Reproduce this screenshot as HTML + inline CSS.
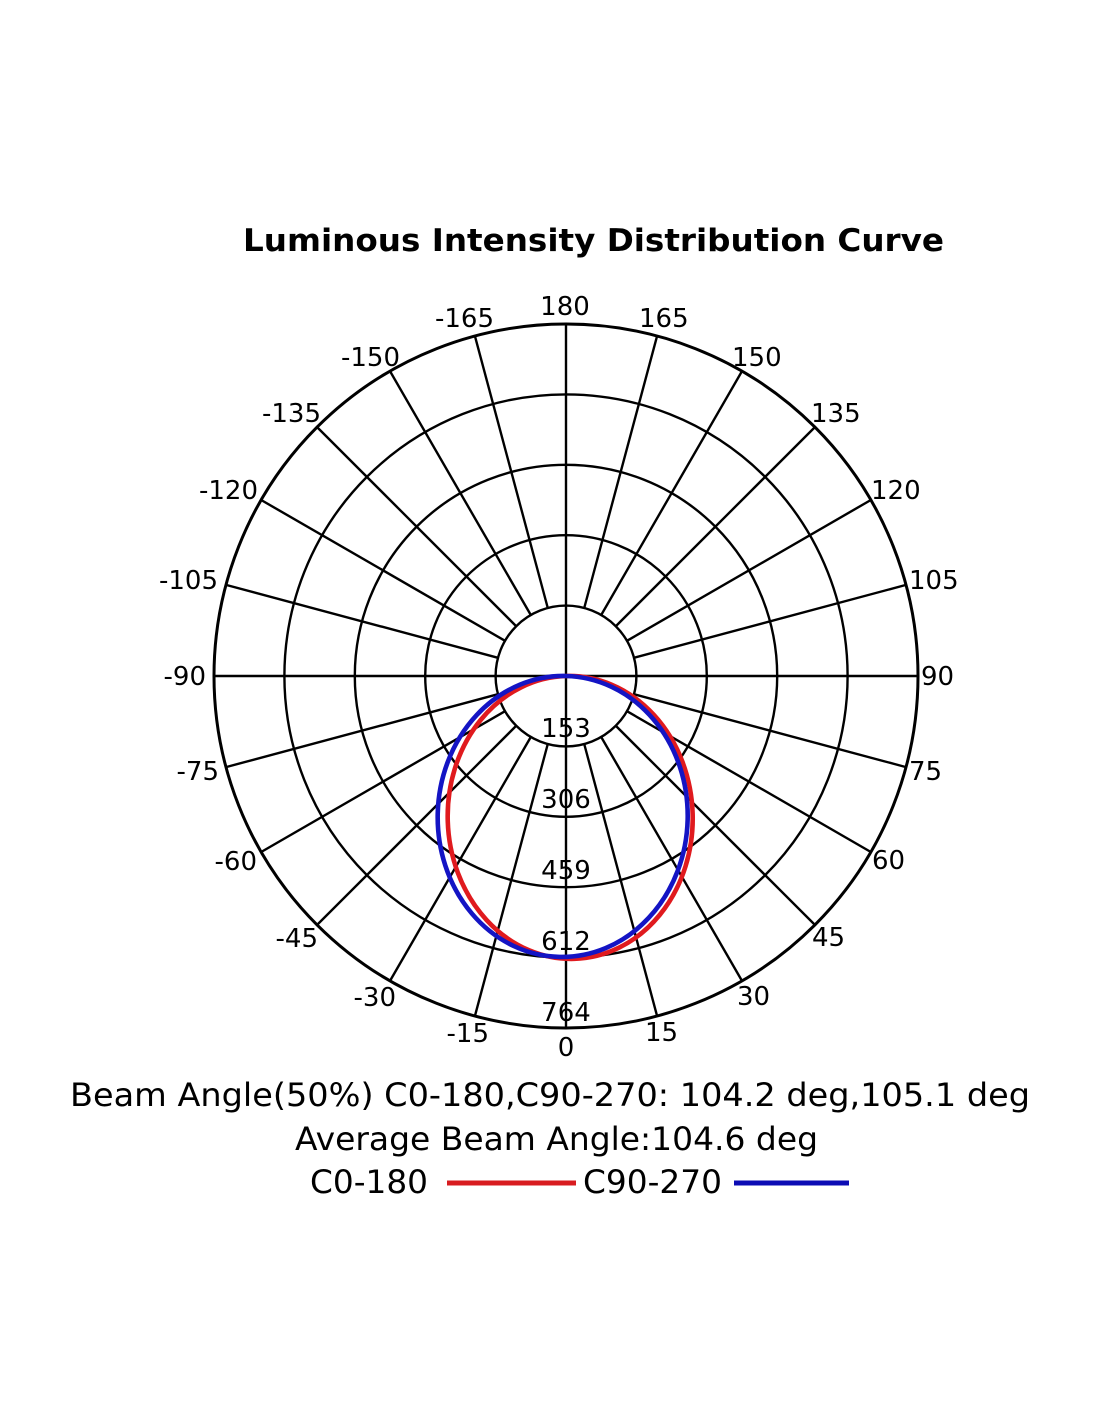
<!DOCTYPE html>
<html>
<head>
<meta charset="utf-8">
<style>
  html, body { margin: 0; padding: 0; background: #ffffff; }
  svg { display: block; }
  text { font-family: "DejaVu Sans", "Liberation Sans", sans-serif; fill: #000; }
</style>
</head>
<body>
<svg width="1100" height="1422" viewBox="0 0 1100 1422" xmlns="http://www.w3.org/2000/svg">
  <rect x="0" y="0" width="1100" height="1422" fill="#ffffff"/>

  <!-- Title -->
  <text x="243" y="251" font-size="31.5" font-weight="bold" textLength="701" lengthAdjust="spacingAndGlyphs">Luminous Intensity Distribution Curve</text>

  <!-- Polar grid -->
  <g transform="translate(566,676)" fill="none" stroke="#000" stroke-width="2.4">
    <circle cx="0" cy="0" r="70.4"/>
    <circle cx="0" cy="0" r="140.8"/>
    <circle cx="0" cy="0" r="211.2"/>
    <circle cx="0" cy="0" r="281.6"/>
    <circle cx="0" cy="0" r="352" stroke-width="3"/>
    <line x1="-352" y1="0" x2="352" y2="0"/>
    <line x1="0" y1="-352" x2="0" y2="352"/>
    <line x1="0" y1="70.4" x2="0" y2="352" transform="rotate(15)"/>
    <line x1="0" y1="70.4" x2="0" y2="352" transform="rotate(30)"/>
    <line x1="0" y1="70.4" x2="0" y2="352" transform="rotate(45)"/>
    <line x1="0" y1="70.4" x2="0" y2="352" transform="rotate(60)"/>
    <line x1="0" y1="70.4" x2="0" y2="352" transform="rotate(75)"/>
    <line x1="0" y1="70.4" x2="0" y2="352" transform="rotate(105)"/>
    <line x1="0" y1="70.4" x2="0" y2="352" transform="rotate(120)"/>
    <line x1="0" y1="70.4" x2="0" y2="352" transform="rotate(135)"/>
    <line x1="0" y1="70.4" x2="0" y2="352" transform="rotate(150)"/>
    <line x1="0" y1="70.4" x2="0" y2="352" transform="rotate(165)"/>
    <line x1="0" y1="70.4" x2="0" y2="352" transform="rotate(195)"/>
    <line x1="0" y1="70.4" x2="0" y2="352" transform="rotate(210)"/>
    <line x1="0" y1="70.4" x2="0" y2="352" transform="rotate(225)"/>
    <line x1="0" y1="70.4" x2="0" y2="352" transform="rotate(240)"/>
    <line x1="0" y1="70.4" x2="0" y2="352" transform="rotate(255)"/>
    <line x1="0" y1="70.4" x2="0" y2="352" transform="rotate(285)"/>
    <line x1="0" y1="70.4" x2="0" y2="352" transform="rotate(300)"/>
    <line x1="0" y1="70.4" x2="0" y2="352" transform="rotate(315)"/>
    <line x1="0" y1="70.4" x2="0" y2="352" transform="rotate(330)"/>
    <line x1="0" y1="70.4" x2="0" y2="352" transform="rotate(345)"/>
  </g>

  <!-- Angle labels -->
  <g font-size="26">
    <text x="565" y="315" text-anchor="middle">180</text>
    <text x="494" y="327" text-anchor="end">-165</text>
    <text x="639" y="327">165</text>
    <text x="400" y="366" text-anchor="end">-150</text>
    <text x="732" y="366">150</text>
    <text x="321" y="422" text-anchor="end">-135</text>
    <text x="811" y="422">135</text>
    <text x="258" y="499" text-anchor="end">-120</text>
    <text x="871" y="499">120</text>
    <text x="218" y="589" text-anchor="end">-105</text>
    <text x="909" y="589">105</text>
    <text x="206" y="685" text-anchor="end">-90</text>
    <text x="921" y="685">90</text>
    <text x="219" y="780" text-anchor="end">-75</text>
    <text x="909" y="780">75</text>
    <text x="257" y="870" text-anchor="end">-60</text>
    <text x="872" y="869">60</text>
    <text x="318" y="947" text-anchor="end">-45</text>
    <text x="812" y="946">45</text>
    <text x="396" y="1006" text-anchor="end">-30</text>
    <text x="737" y="1005">30</text>
    <text x="489" y="1042" text-anchor="end">-15</text>
    <text x="645" y="1041">15</text>
    <text x="566" y="1056" text-anchor="middle">0</text>
  </g>

  <!-- Intensity ring labels -->
  <g font-size="26" text-anchor="middle">
    <text x="566" y="737">153</text>
    <text x="566" y="808">306</text>
    <text x="566" y="879">459</text>
    <text x="566" y="950">612</text>
    <text x="566" y="1021">764</text>
  </g>

  <!-- Curves -->
  <g transform="translate(566,676) rotate(-1.7)">
    <ellipse cx="0" cy="141.5" rx="122.5" ry="141.5" fill="none" stroke="#e01a1e" stroke-width="4.6"/>
  </g>
  <g transform="translate(566,676) rotate(1.35)">
    <ellipse cx="0" cy="140.5" rx="125" ry="140.5" fill="none" stroke="#1414c4" stroke-width="4.6"/>
  </g>

  <!-- Bottom text -->
  <text x="70" y="1106" font-size="32" textLength="960" lengthAdjust="spacingAndGlyphs">Beam Angle(50%) C0-180,C90-270: 104.2 deg,105.1 deg</text>
  <text x="295" y="1150" font-size="32" textLength="523" lengthAdjust="spacingAndGlyphs">Average Beam Angle:104.6 deg</text>
  <text x="310" y="1193" font-size="32" textLength="118" lengthAdjust="spacingAndGlyphs">C0-180</text>
  <line x1="447" y1="1183" x2="576" y2="1183" stroke="#d81c20" stroke-width="5"/>
  <text x="583" y="1193" font-size="32" textLength="139" lengthAdjust="spacingAndGlyphs">C90-270</text>
  <line x1="734" y1="1183" x2="849" y2="1183" stroke="#0c0cb4" stroke-width="5"/>
</svg>
</body>
</html>
